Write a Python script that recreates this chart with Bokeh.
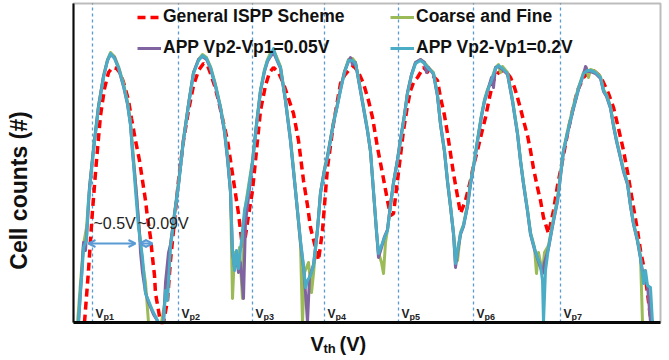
import math
from bokeh.plotting import figure
from bokeh.models import (Range1d, Label, Legend, LegendItem, Arrow, OpenHead,
                          ColumnDataSource, BoxAnnotation)
from bokeh.core.properties import value
from bokeh.embed import file_html
from bokeh.resources import INLINE

# ---------------- data (Vth in V, cell counts arbitrary) ----------------
vp_names = ["p1", "p2", "p3", "p4", "p5", "p6", "p7"]
vp_pos = [0.19, 1.05, 1.79, 2.51, 3.25, 4.00, 4.87]

general_x = [0.11, 0.15, 0.19, 0.23, 0.27, 0.31, 0.35, 0.39, 0.43, 0.47, 0.51, 0.55, 0.58, 0.62,
             0.66, 0.69, 0.72, 0.74, 0.77, 0.79, 0.81, 0.82, 0.85, 0.87, 0.90, 0.94, 0.97, 1.01,
             1.05, 1.10, 1.15, 1.20, 1.25, 1.30, 1.34, 1.37, 1.41, 1.45, 1.49, 1.54, 1.57, 1.60,
             1.63, 1.65, 1.67, 1.69, 1.72, 1.75, 1.79, 1.83, 1.87, 1.92, 1.96, 2.00, 2.05, 2.10,
             2.15, 2.20, 2.25, 2.30, 2.34, 2.37, 2.42, 2.45, 2.49, 2.54, 2.60, 2.64, 2.67, 2.71,
             2.75, 2.80, 2.85, 2.90, 2.95, 2.99, 3.04, 3.09, 3.14, 3.17, 3.20, 3.24, 3.27, 3.30,
             3.34, 3.37, 3.40, 3.44, 3.50, 3.55, 3.59, 3.64, 3.67, 3.71, 3.74, 3.77, 3.80, 3.83,
             3.87, 3.92, 3.97, 4.00, 4.04, 4.08, 4.12, 4.16, 4.20, 4.25, 4.30, 4.34, 4.37, 4.41,
             4.44, 4.47, 4.50, 4.54, 4.57, 4.60, 4.64, 4.67, 4.70, 4.75, 4.80, 4.84, 4.89, 4.94,
             4.99, 5.04, 5.10, 5.15, 5.20, 5.25, 5.29, 5.35, 5.40, 5.45, 5.50, 5.55, 5.60, 5.64,
             5.67, 5.71, 5.74, 5.77, 5.79]
general_y = [0, 52, 112, 162, 207, 234, 250, 255, 254, 249, 237, 222, 204, 182,
             162, 142, 122, 105, 85, 65, 47, 29, 12, 0, 0, 22, 62, 102,
             142, 182, 212, 237, 252, 259, 257, 249, 237, 222, 204, 182, 162, 142,
             122, 109, 92, 75, 87, 107, 132, 172, 212, 237, 250, 255, 250, 239,
             224, 209, 182, 142, 117, 95, 75, 62, 92, 155, 199, 222, 239, 247,
             252, 257, 250, 239, 222, 205, 175, 149, 122, 107, 109, 142, 167, 192,
             217, 232, 240, 245, 255, 250, 247, 242, 225, 207, 189, 169, 149, 132,
             109, 122, 142, 157, 172, 189, 205, 225, 242, 250, 252, 249, 245, 235,
             225, 214, 202, 187, 172, 154, 135, 122, 105, 89, 112, 137, 162, 189,
             212, 232, 245, 250, 252, 248, 242, 229, 215, 194, 172, 145, 115, 92,
             72, 52, 29, 5, 0]

coarse_x = [0.04, 0.07, 0.10, 0.13, 0.16, 0.20, 0.25, 0.30, 0.34, 0.37, 0.41, 0.45, 0.50, 0.54,
            0.57, 0.60, 0.63, 0.66, 0.69, 0.72, 0.75, 0.80, 0.88, 0.93, 0.97, 1.02, 1.05, 1.10,
            1.15, 1.20, 1.25, 1.29, 1.33, 1.37, 1.42, 1.47, 1.51, 1.54, 1.57, 1.59, 1.61, 1.64,
            1.66, 1.69, 1.71, 1.74, 1.79, 1.83, 1.87, 1.91, 1.94, 1.97, 2.00, 2.03, 2.07, 2.12,
            2.17, 2.20, 2.22, 2.25, 2.27, 2.29, 2.31, 2.35, 2.38, 2.40, 2.44, 2.47, 2.51, 2.54,
            2.60, 2.64, 2.67, 2.71, 2.75, 2.79, 2.82, 2.84, 2.87, 2.90, 2.94, 2.97, 3.00, 3.03,
            3.05, 3.08, 3.10, 3.12, 3.14, 3.17, 3.20, 3.24, 3.27, 3.31, 3.34, 3.38, 3.42, 3.47,
            3.51, 3.55, 3.60, 3.64, 3.67, 3.71, 3.74, 3.77, 3.80, 3.82, 3.84, 3.87, 3.90, 3.94,
            3.97, 4.01, 4.04, 4.08, 4.11, 4.14, 4.18, 4.22, 4.25, 4.27, 4.29, 4.34, 4.39, 4.44,
            4.47, 4.50, 4.54, 4.57, 4.61, 4.63, 4.65, 4.67, 4.69, 4.71, 4.75, 4.79, 4.84, 4.87,
            4.90, 4.95, 5.00, 5.05, 5.10, 5.13, 5.15, 5.17, 5.22, 5.27, 5.30, 5.33, 5.37, 5.40,
            5.43, 5.47, 5.50, 5.54, 5.57, 5.60, 5.64, 5.67, 5.69]
coarse_y = [0, 40, 78, 95, 135, 175, 217, 247, 263, 270, 266, 256, 239, 221,
            200, 165, 128, 90, 60, 40, 0, 0, 0, 30, 78, 117, 140, 184,
            219, 250, 263, 268, 265, 256, 238, 216, 193, 167, 130, 24, 70, 60,
            75, 24, 110, 130, 162, 199, 233, 253, 263, 270, 272, 266, 256, 223,
            184, 154, 133, 100, 78, 0, 50, 60, 30, 49, 95, 130, 154, 167,
            201, 219, 234, 251, 263, 264, 260, 250, 233, 216, 193, 170, 130, 90,
            70, 60, 49, 80, 93, 118, 140, 163, 183, 208, 230, 248, 260, 263,
            260, 255, 250, 228, 198, 170, 140, 115, 90, 70, 62, 90, 98, 118,
            140, 163, 183, 208, 223, 233, 243, 255, 258, 250, 256, 250, 223, 190,
            163, 140, 113, 90, 75, 49, 70, 60, 50, 70, 77, 99, 124, 149,
            173, 196, 217, 235, 250, 255, 245, 253, 251, 246, 233, 228, 216, 198,
            183, 166, 153, 140, 118, 100, 83, 66, 0]

app005_x = [0.05, 0.08, 0.10, 0.12, 0.14, 0.16, 0.20, 0.25, 0.30, 0.34, 0.37, 0.41, 0.45, 0.50,
            0.54, 0.57, 0.59, 0.61, 0.63, 0.64, 0.66, 0.67, 0.69, 0.72, 0.75, 0.80, 0.85, 0.90,
            0.92, 0.95, 0.97, 1.02, 1.05, 1.10, 1.15, 1.20, 1.25, 1.29, 1.33, 1.37, 1.42, 1.47,
            1.51, 1.54, 1.57, 1.59, 1.61, 1.63, 1.65, 1.67, 1.70, 1.72, 1.75, 1.79, 1.83, 1.87,
            1.91, 1.94, 1.97, 2.00, 2.03, 2.07, 2.12, 2.17, 2.20, 2.22, 2.25, 2.27, 2.30, 2.32,
            2.34, 2.36, 2.40, 2.44, 2.47, 2.51, 2.54, 2.60, 2.64, 2.67, 2.71, 2.75, 2.77, 2.79,
            2.82, 2.84, 2.87, 2.90, 2.94, 2.97, 3.00, 3.03, 3.05, 3.08, 3.11, 3.14, 3.17, 3.20,
            3.24, 3.27, 3.31, 3.34, 3.38, 3.42, 3.47, 3.51, 3.53, 3.55, 3.60, 3.64, 3.67, 3.71,
            3.74, 3.77, 3.80, 3.82, 3.84, 3.87, 3.90, 3.94, 3.97, 4.01, 4.04, 4.08, 4.11, 4.14,
            4.18, 4.20, 4.22, 4.25, 4.29, 4.34, 4.39, 4.44, 4.47, 4.50, 4.54, 4.57, 4.61, 4.64,
            4.67, 4.69, 4.71, 4.75, 4.79, 4.84, 4.87, 4.90, 4.95, 5.00, 5.05, 5.10, 5.12, 5.14,
            5.17, 5.22, 5.27, 5.30, 5.33, 5.37, 5.40, 5.43, 5.47, 5.50, 5.54, 5.57, 5.60, 5.64,
            5.67, 5.70, 5.74, 5.77]
app005_y = [0, 45, 80, 72, 100, 135, 173, 216, 246, 262, 268, 265, 254, 236,
            218, 198, 170, 150, 128, 115, 90, 70, 50, 30, 20, 8, 0, 0,
            40, 70, 78, 116, 138, 183, 218, 250, 263, 266, 263, 254, 236, 214,
            190, 163, 130, 70, 55, 65, 50, 60, 24, 100, 125, 160, 198, 231,
            251, 261, 266, 270, 263, 254, 221, 181, 151, 131, 101, 80, 55, 30,
            0, 45, 58, 93, 130, 153, 166, 200, 218, 233, 251, 261, 265, 258,
            260, 248, 231, 214, 191, 171, 131, 91, 65, 75, 86, 93, 118, 140,
            163, 183, 208, 230, 248, 260, 263, 260, 250, 255, 248, 226, 198, 171,
            141, 116, 88, 55, 70, 88, 96, 116, 138, 161, 181, 206, 221, 231,
            245, 235, 255, 256, 253, 248, 221, 188, 161, 138, 111, 88, 73, 64,
            55, 49, 60, 74, 96, 121, 146, 171, 193, 214, 233, 248, 256, 251,
            251, 249, 244, 231, 226, 214, 196, 181, 164, 151, 138, 116, 98, 81,
            64, 45, 37, 0]

app02_x = [0.05, 0.07, 0.09, 0.10, 0.13, 0.15, 0.20, 0.25, 0.30, 0.34, 0.37, 0.41, 0.45, 0.50,
           0.54, 0.57, 0.59, 0.62, 0.65, 0.69, 0.72, 0.75, 0.79, 0.85, 0.90, 0.92, 0.94, 0.97,
           1.02, 1.05, 1.10, 1.15, 1.20, 1.25, 1.29, 1.33, 1.37, 1.42, 1.47, 1.51, 1.54, 1.57,
           1.59, 1.61, 1.63, 1.65, 1.68, 1.71, 1.74, 1.79, 1.83, 1.87, 1.91, 1.94, 1.97, 2.00,
           2.03, 2.07, 2.12, 2.17, 2.20, 2.22, 2.25, 2.27, 2.30, 2.32, 2.34, 2.37, 2.40, 2.44,
           2.47, 2.51, 2.54, 2.57, 2.60, 2.64, 2.67, 2.71, 2.75, 2.79, 2.82, 2.84, 2.87, 2.90,
           2.94, 2.97, 3.00, 3.03, 3.05, 3.08, 3.11, 3.14, 3.17, 3.20, 3.24, 3.27, 3.31, 3.34,
           3.38, 3.42, 3.47, 3.51, 3.55, 3.60, 3.64, 3.67, 3.71, 3.74, 3.77, 3.80, 3.82, 3.84,
           3.87, 3.90, 3.94, 3.97, 4.01, 4.04, 4.08, 4.11, 4.14, 4.18, 4.22, 4.25, 4.29, 4.34,
           4.39, 4.44, 4.47, 4.50, 4.54, 4.57, 4.61, 4.64, 4.67, 4.69, 4.70, 4.72, 4.75, 4.79,
           4.84, 4.87, 4.90, 4.95, 5.00, 5.05, 5.10, 5.14, 5.17, 5.22, 5.27, 5.30, 5.33, 5.37,
           5.40, 5.43, 5.47, 5.50, 5.54, 5.57, 5.60, 5.64, 5.67, 5.70, 5.72, 5.74, 5.77, 5.79]
app02_y = [0, 32, 57, 75, 82, 122, 172, 215, 245, 262, 269, 264, 255, 237,
           219, 197, 172, 132, 95, 65, 29, 22, 12, 0, 0, 32, 22, 75,
           115, 137, 182, 217, 249, 262, 267, 264, 255, 237, 215, 192, 165, 132,
           72, 52, 72, 54, 82, 112, 127, 160, 197, 232, 252, 262, 267, 274,
           264, 255, 222, 182, 152, 132, 102, 82, 57, 35, 42, 47, 57, 92,
           129, 152, 165, 182, 199, 217, 232, 250, 262, 262, 259, 249, 232, 215,
           192, 172, 132, 92, 69, 77, 85, 92, 117, 139, 162, 182, 207, 229,
           247, 259, 262, 259, 254, 249, 227, 199, 172, 142, 117, 89, 59, 72,
           89, 97, 117, 139, 162, 182, 207, 222, 232, 242, 254, 257, 254, 249,
           222, 189, 162, 139, 112, 89, 74, 65, 57, 42, 0, 52, 75, 97,
           122, 147, 172, 194, 215, 234, 249, 252, 252, 250, 245, 232, 227, 215,
           197, 182, 165, 152, 139, 117, 99, 82, 65, 39, 52, 37, 35, 0]

series_names = ["General ISPP Scheme", "Coarse and Fine", "APP Vp2-Vp1=0.05V", "APP Vp2-Vp1=0.2V"]
series_colors = ["#ff0000", "#9bbb59", "#8064a2", "#4bacc6"]

# plot-box limits (V, counts)
x_min, x_max = 0.0, 5.87
y_min, y_max = 0.0, 319.0

# annotation values (V)
gap_labels = ["~0.5V", "~0.09V"]
gap_label_x = [0.20, 0.64]
gap_start = [0.15, 0.66]
gap_end = [0.62, 0.79]
gap_level = 79

# ---------------- figure ----------------
# the canvas itself is the data frame; margins are extra range around the plot box
FONT = "Liberation Sans"
p = figure(width=669, height=360, output_backend="svg", toolbar_location=None,
           x_range=Range1d(x_min - 0.73, x_max + 0.09), y_range=Range1d(y_min - 38, y_max + 3),
           min_border=0, x_axis_type=None, y_axis_type=None)
p.grid.visible = False
p.background_fill_color = "white"
p.border_fill_color = "white"
p.outline_line_color = None

# vertical program-verify lines
p.segment(x0=vp_pos, y0=[y_min] * len(vp_pos), x1=vp_pos, y1=[y_max] * len(vp_pos),
          line_color="#5b9bd5", line_width=1.3, line_dash="3 3")

# curves
xs = [general_x, coarse_x, app005_x, app02_x]
ys = [general_y, coarse_y, app005_y, app02_y]
renderers = []
for i, (x, y) in enumerate(zip(xs, ys)):
    if i == 0:
        r = p.line(x, y, line_color=series_colors[i], line_width=3.5, line_dash="8 5")
    else:
        r = p.line(x, y, line_color=series_colors[i], line_width=3, line_join="round")
    renderers.append(r)

# plot box and axis lines
p.add_layout(BoxAnnotation(left=x_min, right=x_max, bottom=y_min, top=y_max,
                           fill_color=None, line_color="#222222", line_width=2))
p.segment(x0=[x_min], y0=[y_min], x1=[x_max], y1=[y_min], line_color="black", line_width=3)
p.segment(x0=[x_min], y0=[y_min], x1=[x_min], y1=[y_max], line_color="black", line_width=2)

# Vp labels
src = ColumnDataSource(dict(x=vp_pos, v=["V"] * len(vp_pos), s=vp_names))
p.text(x="x", y=9, text="v", source=src, x_offset=3, text_font=value(FONT),
       text_font_style="bold", text_font_size="12px", text_color="#222222",
       text_baseline="alphabetic")
p.text(x="x", y=6, text="s", source=src, x_offset=11, text_font=value(FONT),
       text_font_style="bold", text_font_size="9px", text_color="#222222",
       text_baseline="alphabetic")

# gap arrows and labels
for s, e in zip(gap_start, gap_end):
    p.add_layout(Arrow(x_start=s, y_start=gap_level, x_end=e, y_end=gap_level,
                       line_color="#5b9bd5", line_width=2,
                       start=OpenHead(size=7, line_color="#5b9bd5", line_width=2),
                       end=OpenHead(size=7, line_color="#5b9bd5", line_width=2)))
for s, t in zip(gap_label_x, gap_labels):
    p.add_layout(Label(x=s, y=gap_level + 20, text=t, text_font=FONT, text_font_size="16px",
                       text_color="#222222", text_baseline="alphabetic"))

# legends (two columns)
leg_common = dict(label_text_font=FONT, label_text_font_style="bold",
                  label_text_font_size="17.5px", label_text_color="#111111",
                  glyph_width=24, glyph_height=20, label_height=20, label_standoff=2,
                  spacing=10, padding=0, margin=0, border_line_alpha=0,
                  background_fill_alpha=0)
leg1 = Legend(items=[LegendItem(label=series_names[0], renderers=[renderers[0]]),
                     LegendItem(label=series_names[2], renderers=[renderers[2]])],
              location=(137, 302), **leg_common)
leg2 = Legend(items=[LegendItem(label=series_names[1], renderers=[renderers[1]]),
                     LegendItem(label=series_names[3], renderers=[renderers[3]])],
              location=(390, 302), **leg_common)
p.add_layout(leg1)
p.add_layout(leg2)

# axis titles
p.add_layout(Label(x=x_min - 0.55, y=132, angle=math.pi / 2,
                   text="Cell counts (#)", text_font=FONT, text_font_style="bold",
                   text_font_size="23px", text_align="center", text_baseline="middle",
                   text_color="#111111"))
p.add_layout(Label(x=2.37, y=y_min - 21, text="V",
                   text_font=FONT, text_font_style="bold", text_font_size="20px",
                   text_baseline="alphabetic", text_color="#111111"))
p.add_layout(Label(x=2.50, y=y_min - 26, text="th",
                   text_font=FONT, text_font_style="bold", text_font_size="13px",
                   text_baseline="alphabetic", text_color="#111111"))
p.add_layout(Label(x=2.66, y=y_min - 21, text="(V)",
                   text_font=FONT, text_font_style="bold", text_font_size="20px",
                   text_baseline="alphabetic", text_color="#111111"))

open("out.html", "w").write(file_html(p, INLINE))
